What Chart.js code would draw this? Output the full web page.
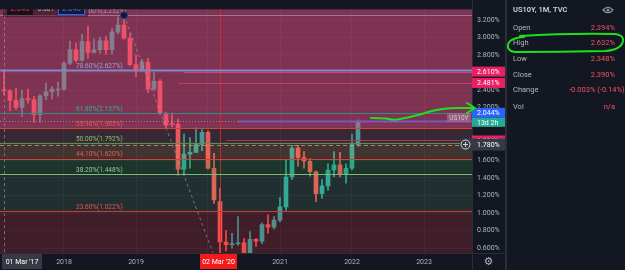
<!DOCTYPE html>
<html>
<head>
<meta charset="utf-8">
<script src="https://cdn.jsdelivr.net/npm/chart.js@4.4.1/dist/chart.umd.min.js"></script>
<style>
  html, body { margin: 0; padding: 0; background: #131722; }
  #wrap { width: 625px; height: 270px; position: relative; }
</style>
</head>
<body>
<div id="wrap"><canvas id="chart" width="625" height="270"></canvas></div>
<script>
// monthly US10Y candles, Mar 2017 .. Feb 2022
const months = [
  "2017-03","2017-04","2017-05","2017-06","2017-07","2017-08","2017-09","2017-10","2017-11","2017-12",
  "2018-01","2018-02","2018-03","2018-04","2018-05","2018-06","2018-07","2018-08","2018-09","2018-10","2018-11","2018-12",
  "2019-01","2019-02","2019-03","2019-04","2019-05","2019-06","2019-07","2019-08","2019-09","2019-10","2019-11","2019-12",
  "2020-01","2020-02","2020-03","2020-04","2020-05","2020-06","2020-07","2020-08","2020-09","2020-10","2020-11","2020-12",
  "2021-01","2021-02","2021-03","2021-04","2021-05","2021-06","2021-07","2021-08","2021-09","2021-10","2021-11","2021-12",
  "2022-01","2022-02"
];
const opens = [
  2.394, 2.390, 2.283, 2.203, 2.304, 2.288, 2.120, 2.334, 2.381, 2.400,
  2.410, 2.705, 2.860, 2.740, 2.953, 2.830, 2.860, 2.960, 2.860, 3.060, 3.140, 2.990,
  2.690, 2.630, 2.720, 2.410, 2.500, 2.130, 2.020, 2.010, 1.500, 1.670, 1.690, 1.780,
  1.920, 1.510, 1.130, 0.670, 0.640, 0.650, 0.660, 0.530, 0.700, 0.680, 0.870, 0.840,
  0.920, 1.070, 1.410, 1.740, 1.630, 1.590, 1.470, 1.220, 1.310, 1.490, 1.550, 1.440,
  1.510, 1.780
];
const highs = [
  2.632, 2.405, 2.420, 2.400, 2.410, 2.330, 2.350, 2.480, 2.440, 2.490,
  2.724, 2.957, 2.936, 3.035, 3.128, 2.980, 3.000, 3.010, 3.100, 3.230, 3.252, 3.040,
  2.800, 2.750, 2.760, 2.600, 2.520, 2.150, 2.140, 2.070, 1.900, 1.860, 1.970, 1.950,
  1.940, 1.680, 1.280, 0.800, 0.770, 0.960, 0.710, 0.790, 0.710, 0.890, 0.980, 0.960,
  1.180, 1.610, 1.770, 1.770, 1.700, 1.620, 1.480, 1.380, 1.560, 1.700, 1.690, 1.560,
  1.900, 2.060
];
const lows = [
  2.348, 2.166, 2.178, 2.101, 2.250, 2.034, 2.034, 2.290, 2.300, 2.330,
  2.400, 2.690, 2.720, 2.730, 2.760, 2.820, 2.820, 2.810, 2.810, 3.040, 2.980, 2.680,
  2.550, 2.610, 2.370, 2.400, 2.120, 1.970, 1.980, 1.430, 1.430, 1.510, 1.690, 1.710,
  1.500, 1.110, 0.320, 0.570, 0.600, 0.630, 0.520, 0.500, 0.620, 0.650, 0.770, 0.820,
  0.900, 1.030, 1.380, 1.530, 1.510, 1.420, 1.130, 1.170, 1.260, 1.410, 1.410, 1.340,
  1.490, 1.760
];
const closes = [
  2.390, 2.283, 2.203, 2.304, 2.288, 2.120, 2.334, 2.381, 2.411, 2.410,
  2.705, 2.860, 2.740, 2.953, 2.830, 2.860, 2.960, 2.860, 3.060, 3.140, 2.990, 2.690,
  2.630, 2.720, 2.410, 2.500, 2.130, 2.000, 2.010, 1.500, 1.670, 1.690, 1.780, 1.920,
  1.510, 1.150, 0.670, 0.640, 0.650, 0.660, 0.530, 0.700, 0.680, 0.870, 0.840, 0.920,
  1.070, 1.410, 1.740, 1.630, 1.590, 1.470, 1.220, 1.310, 1.490, 1.550, 1.440, 1.510,
  1.780, 2.044
];

const yearTicks = [2018, 2019, 2020, 2021, 2022, 2023];

// fibonacci retracement drawn from the Nov 2018 high to the Mar 2020 low
const fibRatios = [1, 0.786, 0.618, 0.559, 0.5, 0.441, 0.382, 0.236];
const fibPrices = [3.252, 2.627, 2.137, 1.965, 1.792, 1.620, 1.448, 1.022];
const fibLow = 0.332;
const fibFrom = "2018-11";
const fibTo = "2020-03";

// horizontal rays and their start month
const rayPrices = [2.610, 2.481, 2.044, 1.826];
const rayStarts = ["2019-09", "2019-08", "2020-06", "2020-04"];

const lastPrice = 2.044;
const crossPrice = 1.780;
const crossMonth = "2017-03";
const markMonth = "2020-03";

const infoRows = ["Open", "High", "Low", "Close", "Change", "Vol"];
const infoValues = ["2.394%", "2.632%", "2.348%", "2.390%", "-0.003% (-0.14%)", "n/a"];

const FONT = 'Roboto, "Noto Sans", sans-serif';
const AXIS_TXT = '#b2b5be';

function monthIndex(s) {
  const [y, m] = s.split('-').map(Number);
  return (y - 2017) * 12 + (m - 1);
}

const upDown = closes.map((c, i) => c >= opens[i]);
const candleColors = upDown.map(u => u ? '#26a69a' : '#ef5350');

const bodies = {
  label: 'body',
  data: months.map((d, i) => ({ x: monthIndex(d), y: [opens[i], closes[i]] })),
  backgroundColor: candleColors,
  barThickness: 4,
  minBarLength: 1,
  grouped: false,
  order: 1
};
const wicks = {
  label: 'wick',
  data: months.map((d, i) => ({ x: monthIndex(d), y: [lows[i], highs[i]] })),
  backgroundColor: candleColors,
  barThickness: 1,
  grouped: false,
  order: 2
};

function box(ctx, x, y, w, h, fill, text, color, align) {
  ctx.fillStyle = fill;
  ctx.fillRect(x, y, w, h);
  if (text) {
    ctx.fillStyle = color;
    ctx.textBaseline = 'middle';
    ctx.textAlign = align || 'center';
    const tx = align === 'left' ? x + 5 : x + w / 2;
    ctx.fillText(text, tx, y + h / 2 + 0.5);
  }
}

const overlay = {
  id: 'overlay',
  beforeDraw(chart) {
    const ctx = chart.ctx;
    ctx.save();
    ctx.fillStyle = '#131722';
    ctx.fillRect(0, 0, chart.width, chart.height);
    ctx.restore();
  },
  afterDatasetsDraw(chart) {
    const { ctx, chartArea: a, scales: { x, y } } = chart;
    const L = a.left, R = a.right;
    ctx.save();
    ctx.beginPath();
    ctx.rect(a.left, a.top, a.right - a.left, a.bottom - a.top);
    ctx.clip();

    // zone fills laid over the candles
    const edges = [null, 1.965, 1.792, 1.620, 1.448, 1.022, null];
    const fills = ['rgba(236,80,130,0.5)', 'rgba(200,110,130,0.2)', 'rgba(240,160,110,0.22)',
                   'rgba(76,175,80,0.2)', 'rgba(129,199,132,0.14)', 'rgba(242,54,69,0.2)'];
    for (let i = 0; i < fills.length; i++) {
      const top = edges[i] === null ? a.top : y.getPixelForValue(edges[i]);
      const bot = edges[i + 1] === null ? a.bottom : y.getPixelForValue(edges[i + 1]);
      ctx.fillStyle = fills[i];
      ctx.fillRect(L, top, R - L, bot - top);
    }

    // vertical lines
    const xm = x.getPixelForValue(monthIndex(markMonth));
    ctx.strokeStyle = 'rgba(235,40,50,0.75)';
    ctx.lineWidth = 1;
    ctx.beginPath(); ctx.moveTo(Math.round(xm) + 0.5, a.top); ctx.lineTo(Math.round(xm) + 0.5, a.bottom); ctx.stroke();
    const xc = x.getPixelForValue(monthIndex(crossMonth));
    ctx.setLineDash([3, 3]);
    ctx.strokeStyle = 'rgba(160,160,175,0.6)';
    ctx.beginPath(); ctx.moveTo(Math.round(xc) + 0.5, a.top); ctx.lineTo(Math.round(xc) + 0.5, a.bottom); ctx.stroke();

    // fib trend line
    ctx.strokeStyle = 'rgba(175,170,185,0.55)';
    ctx.beginPath();
    ctx.moveTo(x.getPixelForValue(monthIndex(fibFrom)), y.getPixelForValue(fibPrices[0]));
    ctx.lineTo(x.getPixelForValue(monthIndex(fibTo)), y.getPixelForValue(fibLow));
    ctx.stroke();

    // last price dotted line
    ctx.setLineDash([1, 2]);
    ctx.strokeStyle = 'rgba(175,160,180,0.7)';
    const yl = Math.round(y.getPixelForValue(lastPrice)) + 0.5;
    ctx.beginPath(); ctx.moveTo(L, yl); ctx.lineTo(R, yl); ctx.stroke();
    ctx.setLineDash([]);

    // fib level lines
    const lineCols = ['rgba(165,125,155,0.9)', '#8088c8', '#2a8f86', '#d8423c', '#5d8f4c', '#d8423c', '#7cba7c', '#d23a3a'];
    const labelCols = ['#b496aa', '#97a3dc', '#2bb3a0', '#f05a50', '#8bc46a', '#f05a50', '#93cc90', '#ef5050'];
    fibPrices.forEach((p, i) => {
      const yy = Math.round(y.getPixelForValue(p)) + 0.5;
      ctx.strokeStyle = lineCols[i];
      ctx.lineWidth = i === 1 ? 2 : 1;
      ctx.beginPath(); ctx.moveTo(L, yy); ctx.lineTo(R, yy); ctx.stroke();
    });

    // crosshair horizontal dashed
    ctx.setLineDash([4, 3]);
    ctx.lineWidth = 1;
    ctx.strokeStyle = 'rgba(160,190,120,0.7)';
    const ych = Math.round(y.getPixelForValue(crossPrice)) + 0.5;
    ctx.beginPath(); ctx.moveTo(L, ych); ctx.lineTo(R, ych); ctx.stroke();
    ctx.setLineDash([]);

    // rays
    const rayCols = ['rgba(215,70,125,0.9)', 'rgba(215,60,110,0.85)', '#7e57c2', 'rgba(190,45,110,0.9)'];
    rayPrices.forEach((p, i) => {
      const yy = Math.round(y.getPixelForValue(p)) + 0.5;
      ctx.strokeStyle = rayCols[i];
      ctx.lineWidth = i === 2 ? 2 : 1;
      ctx.beginPath(); ctx.moveTo(x.getPixelForValue(monthIndex(rayStarts[i])), yy); ctx.lineTo(R, yy); ctx.stroke();
    });

    // fib labels
    ctx.font = '6.5px ' + FONT;
    ctx.textAlign = 'left';
    ctx.textBaseline = 'bottom';
    const lx = x.getPixelForValue(14);
    fibPrices.forEach((p, i) => {
      ctx.fillStyle = labelCols[i];
      const t = (fibRatios[i] * 100).toFixed(2) + '%(' + p.toFixed(3) + '%)';
      ctx.fillText(t, lx, y.getPixelForValue(p) - 0.5);
    });

    // anchor dot
    ctx.beginPath();
    ctx.arc(x.getPixelForValue(monthIndex(fibFrom)), y.getPixelForValue(fibPrices[0]), 3.5, 0, Math.PI * 2);
    ctx.fillStyle = '#101a38';
    ctx.fill();
    ctx.strokeStyle = '#2a3f7a';
    ctx.lineWidth = 1;
    ctx.stroke();

    // buy / sell widget
    ctx.fillStyle = 'rgba(25,12,22,0.45)';
    ctx.fillRect(3, 0, 85, 17);
    ctx.font = '7.5px ' + FONT;
    box(ctx, 7, 2, 26, 13, 'rgba(22,14,24,0.92)', '2.045', '#f2404d');
    ctx.fillStyle = '#c8c8d0';
    ctx.textAlign = 'center';
    ctx.font = '6.5px ' + FONT;
    ctx.fillText('0.001', 46, 9);
    ctx.font = '7.5px ' + FONT;
    box(ctx, 58, 2, 27, 13, '#111a36', '2.046', '#4f7dff');
    ctx.strokeStyle = '#2962ff';
    ctx.strokeRect(58.5, 2.5, 26, 12);

    // series label next to axis
    ctx.font = '6.5px ' + FONT;
    box(ctx, 447, 113, 24, 9, 'rgba(155,110,140,0.75)', 'US10Y', '#dcbccd');
    ctx.restore();
  },
  afterDraw(chart) {
    const { ctx, chartArea: a, scales: { x, y } } = chart;
    ctx.save();
    // separators
    ctx.strokeStyle = '#2a2e39';
    ctx.lineWidth = 1;
    ctx.beginPath();
    ctx.moveTo(a.right + 0.5, 0); ctx.lineTo(a.right + 0.5, 270);
    ctx.moveTo(0, a.bottom + 0.5); ctx.lineTo(505, a.bottom + 0.5);
    ctx.stroke();
    ctx.fillStyle = '#2a2e39';
    ctx.fillRect(505, 0, 2, 270);

    // price axis labels
    ctx.font = '7px ' + FONT;
    const W = 505 - a.right;
    const yp = v => y.getPixelForValue(v);
    box(ctx, a.right, yp(2.610) - 5, W, 10, '#e91e63', '2.610%', '#ffffff', 'left');
    box(ctx, a.right, yp(2.481) - 5, W, 10, '#e91e63', '2.481%', '#ffffff', 'left');
    box(ctx, a.right, yp(1.826) - 5, W, 10, '#e91e63', '1.826%', '#ffffff', 'left');
    ctx.fillStyle = '#f0f0f0';
    ctx.fillRect(a.right, 147, W, 3);
    box(ctx, a.right, yp(lastPrice) - 13.5, W, 10, '#2962ff', '2.044%', '#ffffff', 'left');
    box(ctx, a.right, yp(lastPrice) - 3.5, W, 9, '#22ab94', '13d 2h', '#ffffff', 'left');
    const yc = yp(crossPrice);
    box(ctx, 460, yc - 6, 505 - 460, 12, '#363a45', null);
    ctx.fillStyle = '#ffffff';
    ctx.textAlign = 'left';
    ctx.textBaseline = 'middle';
    ctx.fillText(crossPrice.toFixed(3) + '%', 477, yc + 0.5);
    ctx.strokeStyle = '#d1d4dc';
    ctx.lineWidth = 1;
    ctx.beginPath(); ctx.arc(465.5, yc, 4.5, 0, Math.PI * 2); ctx.stroke();
    ctx.beginPath();
    ctx.moveTo(463, yc); ctx.lineTo(468, yc);
    ctx.moveTo(465.5, yc - 2.5); ctx.lineTo(465.5, yc + 2.5);
    ctx.stroke();

    // time axis labels
    box(ctx, 2, 254, 40, 15, '#363a45', "01 Mar '17", '#ffffff');
    box(ctx, 200, 254, 37, 15, '#f21a1a', "02 Mar '20", '#ffffff');
    ctx.fillStyle = AXIS_TXT;
    ctx.font = '11px "DejaVu Sans"';
    ctx.textAlign = 'center';
    ctx.fillText('\u2699', 488.5, 262);

    // hand drawn green arrow towards the last price
    ctx.strokeStyle = '#1fe01f';
    ctx.lineWidth = 2;
    ctx.lineCap = 'round';
    ctx.lineJoin = 'round';
    ctx.beginPath();
    ctx.moveTo(371, 118);
    ctx.lineTo(386, 118.5);
    ctx.quadraticCurveTo(394, 120.5, 400, 119);
    ctx.quadraticCurveTo(416, 116, 428, 112);
    ctx.quadraticCurveTo(442, 108, 458, 108);
    ctx.lineTo(475, 108);
    ctx.moveTo(467, 103);
    ctx.lineTo(475, 108);
    ctx.lineTo(467, 113);
    ctx.stroke();

    // data window panel
    ctx.font = '600 7.5px ' + FONT;
    ctx.fillStyle = '#d1d4dc';
    ctx.textAlign = 'left';
    ctx.textBaseline = 'middle';
    ctx.fillText('US10Y, 1M, TVC', 513, 10);
    // eye icon
    ctx.strokeStyle = '#9598a1';
    ctx.lineWidth = 1.2;
    ctx.beginPath();
    ctx.moveTo(603, 10); ctx.quadraticCurveTo(608, 4.5, 613, 10); ctx.quadraticCurveTo(608, 15.5, 603, 10);
    ctx.stroke();
    ctx.beginPath(); ctx.arc(608, 10, 1.5, 0, Math.PI * 2); ctx.fillStyle = '#9598a1'; ctx.fill();

    const rowY = [28, 43, 59, 75, 90, 107];
    ctx.font = '7.5px ' + FONT;
    infoRows.forEach((r, i) => {
      ctx.fillStyle = AXIS_TXT;
      ctx.textAlign = 'left';
      ctx.fillText(r, 513, rowY[i]);
      ctx.fillStyle = '#f7525f';
      if (r === 'Change') {
        ctx.fillText(infoValues[i], 569, rowY[i]);
      } else {
        ctx.textAlign = 'right';
        ctx.fillText(infoValues[i], 615, rowY[i]);
      }
    });

    // hand drawn green loop round the High row
    ctx.strokeStyle = '#1fe01f';
    ctx.lineWidth = 2;
    ctx.beginPath();
    ctx.moveTo(520, 36);
    ctx.quadraticCurveTo(570, 33, 615, 34);
    ctx.quadraticCurveTo(624, 35, 623, 41);
    ctx.quadraticCurveTo(621, 50, 605, 51);
    ctx.quadraticCurveTo(560, 52, 515, 52);
    ctx.quadraticCurveTo(507, 51, 508, 45);
    ctx.quadraticCurveTo(509, 38, 524, 37);
    ctx.stroke();
    ctx.restore();
  }
};

new Chart(document.getElementById('chart').getContext('2d'), {
  type: 'bar',
  data: { datasets: [bodies, wicks] },
  options: {
    responsive: false,
    animation: false,
    layout: { padding: { left: 0, right: 120, top: 0, bottom: 0 } },
    plugins: { legend: { display: false }, tooltip: { enabled: false } },
    scales: {
      x: {
        type: 'linear',
        min: 4 / 3,
        max: 80,
        offset: false,
        afterBuildTicks: s => { s.ticks = yearTicks.map(yr => ({ value: (yr - 2017) * 12 })); },
        afterFit: s => { s.height = 17; },
        ticks: {
          autoSkip: false,
          maxRotation: 0,
          padding: 5,
          color: AXIS_TXT,
          font: { family: FONT, size: 7 },
          callback: v => String(2017 + Math.round(v / 12))
        },
        grid: { offset: false, color: 'rgba(255,255,255,0.05)', drawTicks: false },
        border: { display: false }
      },
      y: {
        position: 'right',
        min: 0.5451,
        max: 3.3207,
        afterFit: s => { s.width = 33; },
        ticks: {
          stepSize: 0.2,
          includeBounds: false,
          padding: 5,
          color: AXIS_TXT,
          font: { family: FONT, size: 7 },
          callback: v => v.toFixed(3) + '%'
        },
        grid: { color: 'rgba(255,255,255,0.04)', drawTicks: false },
        border: { display: false }
      }
    }
  },
  plugins: [overlay]
});
</script>
</body>
</html>
